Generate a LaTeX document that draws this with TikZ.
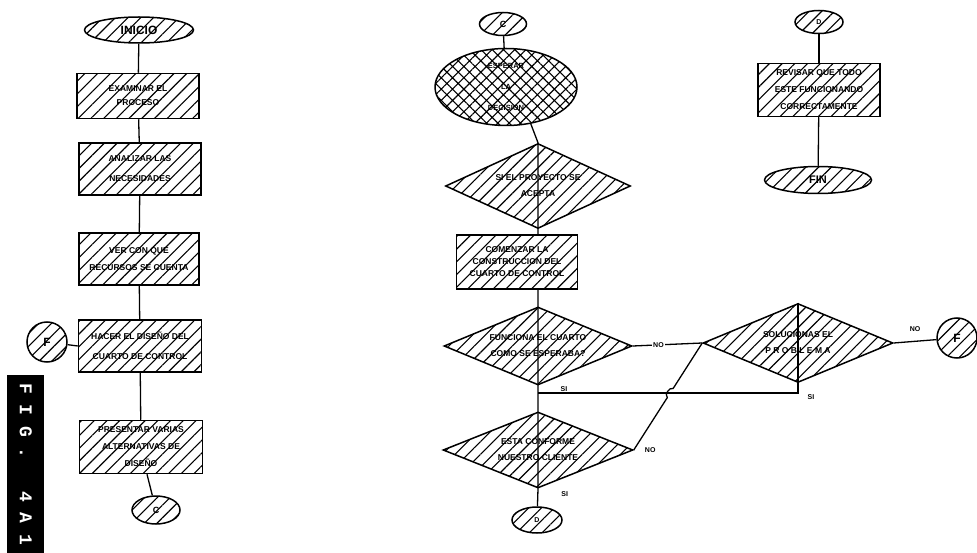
\documentclass[tikz,border=0pt]{standalone}
\usepackage{fontspec}
\setmainfont{Liberation Sans}
\newfontfamily\figfont{Liberation Mono}
\usetikzlibrary{shapes.geometric,patterns.meta,calc}

\tikzstyle{rayado} = [draw=black, line width=1.5pt, pattern={Lines[angle=45,distance=9pt,line width=1.1pt]}]
\tikzstyle{cruzado} = [draw=black, line width=1.5pt, pattern={Hatch[angle=45,distance=8pt,line width=1.1pt]}]
\tikzstyle{proceso} = [rayado, rectangle, minimum width=122pt, minimum height=52pt, inner sep=2pt, align=center, font=\fontsize{8.5}{17}\selectfont\bfseries]
\tikzstyle{decision} = [rayado, diamond, aspect=2.4, inner sep=0pt, minimum width=188pt, minimum height=78pt, align=center, font=\fontsize{8.5}{16}\selectfont\bfseries]
\tikzstyle{terminal} = [rayado, ellipse, inner sep=0pt, minimum width=108pt, minimum height=26pt, font=\fontsize{11}{11}\selectfont\bfseries]
\tikzstyle{conector} = [rayado, ellipse, inner sep=0pt, minimum width=48pt, minimum height=25pt, font=\fontsize{9}{9}\selectfont\bfseries]
\tikzstyle{circulo} = [rayado, circle, inner sep=0pt, minimum size=40pt, font=\fontsize{12}{12}\selectfont\bfseries]
\tikzstyle{linea} = [draw=black, line width=1.3pt]
\tikzstyle{etiqueta} = [font=\fontsize{7}{7}\selectfont\bfseries, inner sep=1pt]

\begin{document}
\begin{tikzpicture}[x=1pt,y=-1pt]
\useasboundingbox (0,0) rectangle (977,553);

% columna izquierda
\node [terminal, minimum width=109pt, font=\fontsize{12}{12}\selectfont\bfseries] (inicio) at (139,30) {INICIO};
\node [proceso, minimum height=45pt, font=\fontsize{8.5}{14}\selectfont\bfseries] (examinar) at (138,96) {EXAMINAR EL\\PROCESO};
\node [proceso, font=\fontsize{8.5}{20}\selectfont\bfseries] (analizar) at (140,169) {ANALIZAR LAS\\NECESIDADES};
\node [proceso, minimum width=120pt] (ver) at (139,259) {VER CON QUE\\RECURSOS SE CUENTA};
\node [proceso, minimum width=123pt, font=\fontsize{8.5}{20}\selectfont\bfseries] (hacer) at (140,346) {HACER EL DISEÑO DEL\\CUARTO DE CONTROL};
\node [proceso, minimum width=123pt, minimum height=53pt] (presentar) at (141,447) {PRESENTAR VARIAS\\ALTERNATIVAS DE\\DISEÑO};
\node [conector, minimum height=28pt] (cA) at (156,510) {C};
\node [circulo] (fA) at (47,342) {F};

\node [fill=black, anchor=north west, minimum width=37pt, minimum height=178pt, inner sep=0pt] (fig) at (7,375) {};
\node [rotate=-90, text=white, font=\figfont\bfseries\fontsize{18}{18}\selectfont] at (fig.center) {F~I~G~.~~~4~A~1};

\draw [linea] (inicio) -- (examinar);
\draw [linea] (examinar) -- (analizar);
\draw [linea] (analizar) -- (ver);
\draw [linea] (ver) -- (hacer);
\draw [linea] (hacer) -- (presentar);
\draw [linea] ([xshift=6pt]presentar.south) -- (cA);
\draw [linea] (fA) -- (hacer.west);

% columna central
\node [conector, minimum width=47pt, minimum height=23pt] (cB) at (503,24) {C};
\node [cruzado, ellipse, inner sep=0pt, minimum width=142pt, minimum height=77pt, align=center, font=\fontsize{7.5}{21}\selectfont\bfseries] (esperar) at (506,87) {ESPERAR\\LA\\DECISION};
\node [decision, minimum width=185pt, minimum height=85pt] (acepta) at (538,186) {SI EL PROYECTO SE\\ACEPTA};
\node [proceso, minimum width=121pt, minimum height=54pt, font=\fontsize{8.5}{12}\selectfont\bfseries] (comenzar) at (517,262) {COMENZAR LA\\CONSTRUCCION DEL\\CUARTO DE CONTROL};
\node [decision] (funciona) at (538,346) {FUNCIONA EL CUARTO\\COMO SE ESPERABA?};
\coordinate (siJ) at (538,393);
\node [decision, minimum width=190pt, minimum height=76pt] (esta) at (538,450) {ESTA CONFORME\\NUESTRO CLIENTE};
\node [conector, minimum width=50pt, minimum height=26pt, font=\fontsize{7}{7}\selectfont\bfseries] (dB) at (537,520) {D};

% columna derecha
\node [decision, minimum width=190pt, minimum height=79pt] (soluciona) at (798,343) {SOLUCIONAS EL\\P R O B L E M A};
\node [circulo] (fB) at (957,338) {F};
\node [conector, minimum width=48pt, minimum height=23pt, font=\fontsize{7}{7}\selectfont\bfseries] (dA) at (819,22) {D};
\node [proceso, minimum height=53pt] (revisar) at (819,90) {REVISAR QUE TODO\\ESTE FUNCIONANDO\\CORRECTAMENTE};
\node [terminal, minimum width=107pt, minimum height=27pt] (fin) at (818,180) {FIN};

\draw [linea] (cB) -- (esperar);
\draw [linea] (esperar.-56) -- (acepta.north) -- (acepta.south) -- (acepta.south |- comenzar.north);
\draw [linea] (comenzar.south -| funciona.north) -- (funciona.north) -- (funciona.south) -- (esta.north) -- (esta.south) -- (dB)
  node [etiqueta, pos=0.3, right=22pt] {SI};
\draw [linea] (funciona.east) -- (soluciona.west) node [etiqueta, pos=0.37, fill=white] {NO};
\draw [linea] (soluciona.north) -- (soluciona.south) |- (siJ)
  node [etiqueta, pos=0.5, right=8pt, yshift=-4pt] {SI}
  node [etiqueta, pos=0.95, above] {SI};
\draw [linea] (esta.east) -- ($(esta.east)!0.49!(soluciona.west)$) to[bend left=80] ($(esta.east)!0.575!(soluciona.west)$) -- (soluciona.west);
\node [etiqueta, right=10pt] at (esta.east) {NO};
\draw [linea] (soluciona.east) -- (fB) node [etiqueta, midway, above=8pt] {NO};
\draw [linea] (dA) -- (revisar);
\draw [linea] (revisar) -- (fin);
\end{tikzpicture}
\end{document}
